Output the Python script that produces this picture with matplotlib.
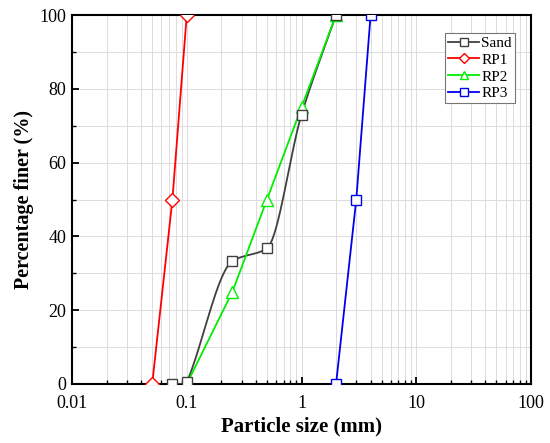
import numpy as np
import matplotlib
matplotlib.use("Agg")
import matplotlib.pyplot as plt
from matplotlib.ticker import LogLocator, FixedLocator, FixedFormatter, MultipleLocator

plt.rcParams['font.family'] = ['Liberation Serif', 'DejaVu Serif']

sand_x = [0.075, 0.1, 0.25, 0.5, 1.0, 2.0]
sand_y = [0, 0.5, 33.3, 36.8, 73, 100]
rp1_x = [0.05, 0.075, 0.1]
rp1_y = [0, 50, 100]
rp2_x = [0.1, 0.25, 0.5, 1.0, 2.0]
rp2_y = [0, 25, 50, 75, 100]
rp3_x = [2.0, 3.0, 4.0]
rp3_y = [0, 50, 100]
xticks = [0.01, 0.1, 1, 10, 100]
xticklabels = ["0.01", "0.1", "1", "10", "100"]


def smooth_curve(xs, ys, n=60):
    # monotone cubic Hermite smoothing drawn in log-x space
    x = np.log10(np.asarray(xs, float))
    y = np.asarray(ys, float)
    h = np.diff(x)
    d = np.diff(y) / h
    m = np.zeros_like(y)
    m[0], m[-1] = d[0], d[-1]
    for k in range(1, len(x) - 1):
        if d[k - 1] * d[k] <= 0:
            m[k] = 0
        else:
            w1 = 2 * h[k] + h[k - 1]
            w2 = h[k] + 2 * h[k - 1]
            m[k] = (w1 + w2) / (w1 / d[k - 1] + w2 / d[k])
    m[1] = max(m[1], 0.85 * d[1])
    m[0] = 0
    X, Y = [], []
    for k in range(len(x) - 1):
        t = np.linspace(0, 1, n)
        h00 = 2 * t**3 - 3 * t**2 + 1
        h10 = t**3 - 2 * t**2 + t
        h01 = -2 * t**3 + 3 * t**2
        h11 = t**3 - t**2
        X.append(x[k] + t * h[k])
        Y.append(h00 * y[k] + h10 * h[k] * m[k] + h01 * y[k + 1] + h11 * h[k] * m[k + 1])
    return 10 ** np.concatenate(X), np.clip(np.concatenate(Y), 0, None)


fig = plt.figure(figsize=(5.5, 4.43), dpi=100)
ax = fig.add_axes([0.1309, 0.1332, 0.8346, 0.8329])

sx, sy = smooth_curve(sand_x, sand_y)
ax.plot(sx, sy, color='#404040', lw=1.3, zorder=3)
ax.plot(sand_x, sand_y, ls='none', marker='s', ms=7, mfc='white', mec='#404040', mew=1.0, zorder=4)
ax.plot([], [], color='#404040', lw=1.3, marker='s', ms=7, mfc='white', mec='#404040', mew=1.0, label='Sand')

ax.plot(rp1_x, rp1_y, color='red', lw=1.3, marker='D', ms=7, mfc='white', mec='red', mew=1.0, label='RP1', zorder=3)
ax.plot(rp2_x, rp2_y, color='#00ee00', lw=1.3, marker='^', ms=8, mfc='white', mec='#00ee00', mew=1.0, label='RP2', zorder=3)
ax.plot(rp3_x, rp3_y, color='#0000ee', lw=1.3, marker='s', ms=7, mfc='white', mec='#0000ee', mew=1.0, label='RP3', zorder=3)

ax.set_xscale('log')
ax.set_xlim(0.01, 100)
ax.set_ylim(0, 100)
ax.xaxis.set_major_locator(FixedLocator(xticks))
ax.xaxis.set_major_formatter(FixedFormatter(xticklabels))
ax.xaxis.set_minor_locator(LogLocator(base=10, subs=np.arange(2, 10), numticks=20))
ax.xaxis.set_minor_formatter(plt.NullFormatter())
ax.yaxis.set_major_locator(MultipleLocator(20))
ax.yaxis.set_minor_locator(MultipleLocator(10))

ax.grid(True, which='both', color='#dcdcdc', lw=0.7, zorder=0)
ax.set_axisbelow(True)

for s in ax.spines.values():
    s.set_linewidth(1.5)
    s.set_color('black')

ax.tick_params(which='major', direction='in', length=5, width=1.3, labelsize=13,
               top=False, right=False)
ax.tick_params(axis='x', which='major', pad=8)
ax.tick_params(axis='y', which='major', pad=4)
ax.tick_params(which='minor', direction='in', length=3, width=1.0, top=False, right=False)

ax.set_xlabel('Particle size (mm)', fontsize=15, fontweight='bold', labelpad=3)
ax.set_ylabel('Percentage finer (%)', fontsize=14.5, fontweight='bold', labelpad=4)

leg = ax.legend(loc='upper right', bbox_to_anchor=(0.9645, 0.9504), borderaxespad=0,
                fontsize=11, frameon=True, fancybox=False, edgecolor='#777777', framealpha=1,
                handlelength=2.0, handletextpad=0.15, borderpad=0.2, labelspacing=0.2,
                markerscale=0.8)
leg.get_frame().set_linewidth(0.8)

fig.savefig('out.png', dpi=100)
